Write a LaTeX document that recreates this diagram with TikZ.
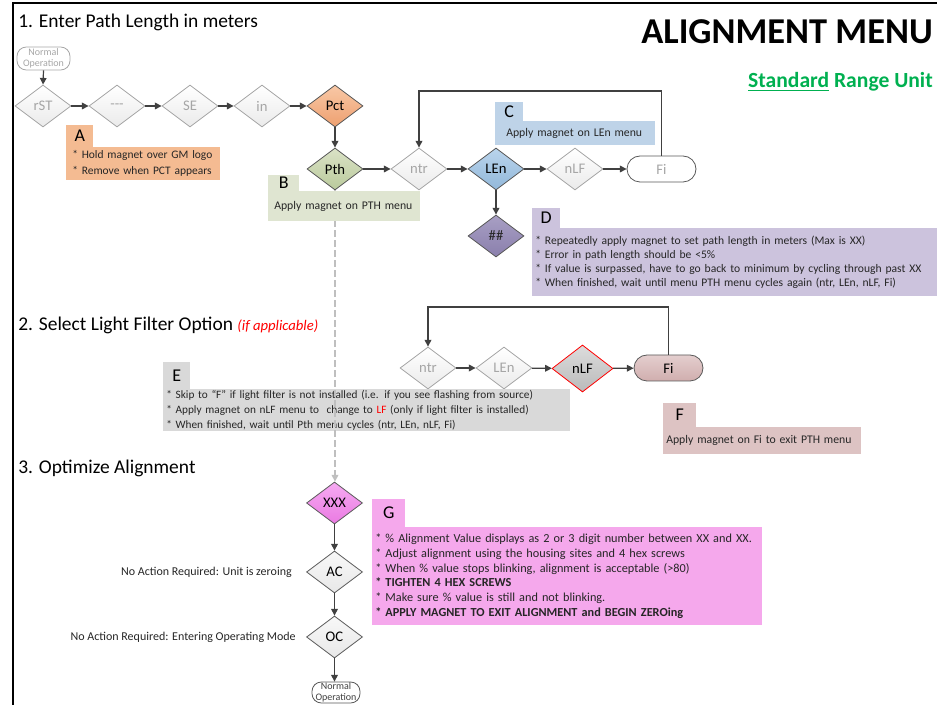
\documentclass[tikz,border=0pt]{standalone}
\usepackage{fontspec}
\setmainfont{Carlito}
\usetikzlibrary{shapes.geometric,arrows.meta}
\definecolor{arrc}{HTML}{404040}
\definecolor{lgray}{HTML}{A6A6A6}
\definecolor{dgray}{HTML}{595959}
\definecolor{dashc}{HTML}{BFBFBF}
\definecolor{colA}{HTML}{F4BB92}
\definecolor{colB}{HTML}{DFE5D1}
\definecolor{colC}{HTML}{BED3E8}
\definecolor{colD}{HTML}{CCC3DD}
\definecolor{colE}{HTML}{D9D9D9}
\definecolor{colF}{HTML}{DDC3C3}
\definecolor{colG}{HTML}{F5A8EC}
\definecolor{greenT}{HTML}{00B050}
\definecolor{txt}{HTML}{262626}
\begin{document}
\begin{tikzpicture}[x=0.75pt,y=-0.75pt,
  arr/.style={draw=arrc, line width=0.9pt, -{Triangle[length=5pt,width=5pt]}},
  dia/.style={diamond, draw=dgray, line width=0.6pt, inner sep=0pt, minimum width=42pt, minimum height=31.5pt, font=\fontsize{11}{13}\selectfont, text=black},
  gdia/.style={dia, draw=lgray, top color=white, bottom color=white!92!black, text=lgray},
  stad/.style={rectangle, rounded corners=9.75pt, draw=dgray, line width=0.6pt, minimum width=51.75pt, minimum height=19.5pt, inner sep=0pt, font=\fontsize{11}{13}\selectfont},
  normop/.style={rectangle, rounded corners=7pt, draw=dgray, line width=0.6pt, inner sep=0pt, align=center, font=\fontsize{7.5}{8.5}\selectfont},
  bbody/.style={rectangle, anchor=north west, inner ysep=0pt, align=left, text=txt, font=\fontsize{8.8}{11}\selectfont},
  btab/.style={rectangle, anchor=south west, inner sep=0pt, text=black, font=\fontsize{13.5}{15}\selectfont},
  sect/.style={anchor=base west, inner sep=0pt, text=black, font=\fontsize{14.6}{17}\selectfont},
  lbl/.style={anchor=east, inner sep=0pt, text=txt, font=\fontsize{9}{11}\selectfont},
  dashline/.style={draw=dashc, line width=0.9pt, dash pattern=on 5pt off 2.5pt, -{Triangle[length=5pt,width=5pt,fill=dashc]}}
]
\useasboundingbox (0,0) rectangle (940,705);
\draw[line width=1.6pt] (13,705) -- (13,3) -- (937,3);

% titles
\node[sect] (t1) at (18,28) {1. Enter Path Length in meters};
\node[anchor=base east, inner sep=0pt, font=\fontsize{27.3}{30}\selectfont\bfseries] (title) at (933,44) {ALIGNMENT MENU};
\node[anchor=base east, inner sep=0pt, text=greenT, font=\fontsize{16.2}{19}\selectfont\bfseries] (sub) at (933,88) {\underline{Standard} Range Unit};
\node[sect] (t2) at (18,331) {2. Select Light Filter Option {\color{red}\fontsize{11}{13}\selectfont\itshape (if applicable)}};
\node[sect] (t3) at (18,474) {3. Optimize Alignment};

% ---------- section 1
\node[normop, draw=lgray, text=lgray, minimum width=39.75pt, minimum height=17.25pt] (no1) at (43.5,58.5) {Normal\\Operation};
\node[gdia] (rst) at (43,106) {rST};
\node[gdia] (dsh) at (117,106) {-{}-{}-};
\node[gdia] (se) at (190,106) {SE};
\node[gdia] (inn) at (262,106) {in};
\node[dia, top color={rgb,255:red,248;green,200;blue,166}, bottom color={rgb,255:red,238;green,160;blue,112}] (pct) at (335,106) {Pct};
\node[dia, top color={rgb,255:red,218;green,226;blue,198}, bottom color={rgb,255:red,186;green,202;blue,156}] (pth) at (335,169) {Pth};
\node[gdia] (ntr1) at (419,169) {ntr};
\node[dia, top color={rgb,255:red,186;green,212;blue,236}, bottom color={rgb,255:red,146;green,184;blue,218}] (len1) at (496,169) {LEn};
\node[gdia] (nlf1) at (575,169) {nLF};
\node[stad, fill=white, text=lgray] (fi1) at (661.5,169) {Fi};
\node[dia, top color={rgb,255:red,168;green,159;blue,196}, bottom color={rgb,255:red,138;green,127;blue,172}, text=txt] (hash) at (496,236) {\#\#};

\draw[arr] (no1.south) -- (rst.north);
\draw[arr] (rst) -- (dsh);
\draw[arr] (dsh) -- (se);
\draw[arr] (se) -- (inn);
\draw[arr] (inn) -- (pct);
\draw[arr] (pct) -- (pth);
\draw[arr] (pth) -- (ntr1);
\draw[arr] (ntr1) -- (len1);
\draw[arr] (len1) -- (nlf1);
\draw[arr] (nlf1) -- (fi1);
\draw[arr] (len1) -- (hash);
\coordinate (lp1) at (0,91);
\draw[arr] (fi1.north) -- (fi1.north |- lp1) -- (ntr1.north |- lp1) -- (ntr1.north);

% box A
\node[bbody, fill=colA, minimum height=24.75pt, text width=106.5pt, inner xsep=4.5pt, font=\fontsize{8.6}{12}\selectfont] (Ab) at (66,147) {* Hold magnet over GM logo\\{}* Remove when PCT appears};
\node[btab, fill=colA, minimum width=20.25pt, minimum height=16.5pt] (At) at (Ab.north west) {A};
% box C
\node[bbody, fill=colC, minimum height=18pt, text width=103.5pt, inner xsep=8.25pt] (Cb) at (495,121) {Apply magnet on LEn menu};
\node[btab, fill=colC, minimum width=21pt, minimum height=14.25pt] (Ct) at (Cb.north west) {C};
% box D
\node[bbody, fill=colD, minimum height=51pt, text width=299.25pt, inner xsep=2.25pt, font=\fontsize{8.7}{10.5}\selectfont] (Db) at (532,228) {* Repeatedly apply magnet to set path length in meters (Max is XX)\\{}* Error in path length should be <5\%\\{}* If value is surpassed, have to go back to minimum by cycling through past XX\\{}* When finished, wait until menu PTH menu cycles again (ntr, LEn, nLF, Fi)};
\node[btab, fill=colD, minimum width=21pt, minimum height=15pt] (Dt) at (Db.north west) {D};

% ---------- section 2
\node[gdia] (ntr2) at (428,368) {ntr};
\node[gdia] (len2) at (504,368) {LEn};
\node[dia, draw=red, minimum width=45.75pt, minimum height=35.25pt, top color={rgb,255:red,220;green,220;blue,220}, bottom color={rgb,255:red,186;green,186;blue,186}] (nlf2) at (582.5,368.5) {nLF};
\node[stad, top color={rgb,255:red,228;green,206;blue,206}, bottom color={rgb,255:red,208;green,174;blue,174}] (fi2) at (668.5,368) {Fi};
\draw[arr] (ntr2) -- (len2);
\draw[arr] (len2) -- (nlf2);
\draw[arr] (nlf2) -- (fi2);
\coordinate (lp2) at (0,307);
\draw[arr] (fi2.north) -- (fi2.north |- lp2) -- (ntr2.north |- lp2) -- (ntr2.north);

% box E
\node[bbody, fill=colE, minimum height=31.5pt, text width=300.75pt, inner xsep=2.25pt, font=\fontsize{8.45}{10.9}\selectfont] (Eb) at (163,389) {* Skip to “F” if light filter is not installed (i.e. if you see flashing from source)\\{}* Apply magnet on nLF menu to\ \ change to \textcolor{red}{LF} (only if light filter is installed)\\{}* When finished, wait until Pth menu cycles (ntr, LEn, nLF, Fi)};
\node[btab, fill=colE, minimum width=20.25pt, minimum height=20.25pt] (Et) at (Eb.north west) {E};
% box F
\node[bbody, fill=colF, minimum height=20.25pt, text width=144pt, inner xsep=2.25pt] (Fb) at (663,427) {Apply magnet on Fi to exit PTH menu};
\node[btab, fill=colF, minimum width=24.75pt, minimum height=18pt] (Ft) at (Fb.north west) {F};

% ---------- section 3
\node[dia, top color={rgb,255:red,246;green,170;blue,242}, bottom color={rgb,255:red,234;green,122;blue,226}] (xxx) at (334.5,503) {XXX};
\node[dia, top color={rgb,255:red,248;green,248;blue,248}, bottom color={rgb,255:red,232;green,232;blue,232}] (ac) at (334.5,572) {AC};
\node[dia, top color={rgb,255:red,248;green,248;blue,248}, bottom color={rgb,255:red,232;green,232;blue,232}] (oc) at (334.5,637) {OC};
\node[normop, fill=white, text=arrc, minimum width=36pt, minimum height=15.75pt] (no2) at (336,692.5) {Normal\\Operation};
\draw[arr] (xxx) -- (ac);
\draw[arr] (ac) -- (oc);
\draw[arr] (oc.south) -- (oc.south |- no2.north);
\node[lbl] (l1) at (292,572) {No Action Required: Unit is zeroing};
\node[lbl] (l2) at (296,637) {No Action Required: Entering Operating Mode};

% dashed link
\draw[dashline] (pth.south) -- (pth.south |- xxx.north);

% box B (over the dashed line)
\node[bbody, fill=colB, minimum height=22.5pt, text width=105pt, inner xsep=4.5pt] (Bb) at (268,191) {Apply magnet on PTH menu};
\node[btab, fill=colB, minimum width=23.25pt, minimum height=12pt] (Bt) at (Bb.north west) {B};

% box G
\node[bbody, fill=colG, minimum height=73.5pt, text width=288pt, inner xsep=2.25pt, font=\fontsize{9.2}{11}\selectfont] (Gb) at (372,527) {* \% Alignment Value displays as 2 or 3 digit number between XX and XX.\\{}* Adjust alignment using the housing sites and 4 hex screws\\{}* When \% value stops blinking, alignment is acceptable (>80)\\\textbf{* TIGHTEN 4 HEX SCREWS}\\{}* Make sure \% value is still and not blinking.\\\textbf{* APPLY MAGNET TO EXIT ALIGNMENT and BEGIN ZEROing}};
\node[btab, fill=colG, minimum width=24.75pt, minimum height=21pt] (Gt) at (Gb.north west) {G};
\end{tikzpicture}
\end{document}
